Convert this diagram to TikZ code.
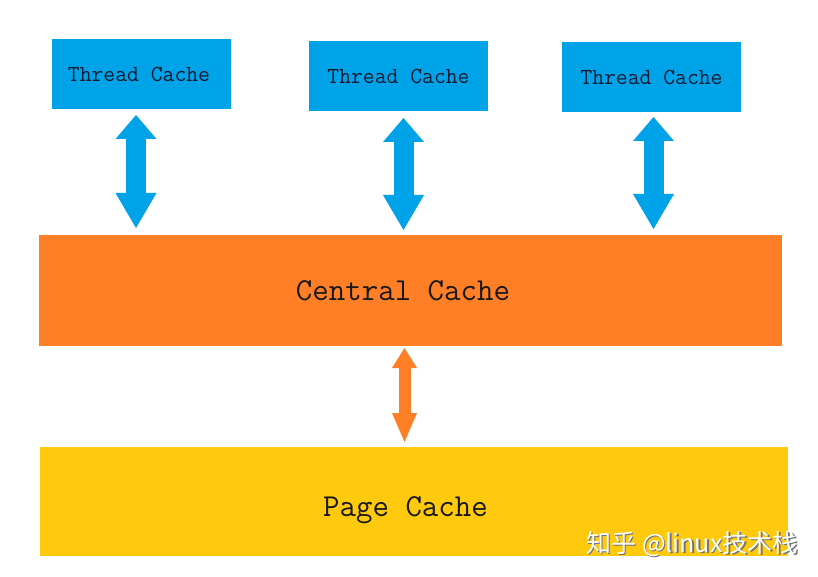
\documentclass[tikz,border=0pt]{standalone}
\usepackage{fontspec}
\newfontfamily\monofont{Latin Modern Mono}
\newfontfamily\cjk{Noto Sans CJK SC}
\usetikzlibrary{arrows.meta,calc}
\definecolor{pblue}{HTML}{00A2E8}
\definecolor{porange}{HTML}{FF7F27}
\definecolor{pgold}{HTML}{FFC90E}
\definecolor{txtdark}{HTML}{151A30}
\tikzset{
  box/.style={rectangle, inner sep=0pt, outer sep=0pt, draw=none},
  threadbox/.style={box, fill=pblue, minimum width=179pt, minimum height=70pt,
    font=\monofont\fontsize{23}{23}\selectfont, text=txtdark},
  bigtext/.style={inner sep=0pt, font=\monofont\fontsize{32}{32}\selectfont, text=black!90},
  bluearrow/.style={draw=pblue, line width=20pt,
    {Triangle[width=41pt 0, length=24pt 0, line width=0pt 0 0]}-{Triangle[width=41pt 0, length=35pt 0, line width=0pt 0 0]}},
  orangearrow/.style={draw=porange, line width=12pt,
    {Triangle[width=25pt 0, length=20pt 0, line width=0pt 0 0]}-{Triangle[width=25pt 0, length=29pt 0, line width=0pt 0 0]}},
}
\begin{document}
\begin{tikzpicture}[x=1pt, y=-1pt]
\useasboundingbox[fill=white] (0,0) rectangle (818,577);
% thread caches
\node[threadbox] (t1) at (141.5,74) {\hspace{-5pt}Thread Cache};
\node[threadbox] (t2) at (398.5,76) {Thread Cache};
\node[threadbox] (t3) at (651.5,77) {Thread Cache};
% central cache
\node[box, fill=porange, minimum width=743pt, minimum height=111pt] (central) at (410.5,290.5) {};
\node[bigtext] (centraltext) at ([xshift=-7.5pt]central.center) {Central Cache};
% page cache
\node[box, fill=pgold, minimum width=748pt, minimum height=109pt] (page) at (414,501.5) {};
\node[bigtext] (pagetext) at ([xshift=-8.5pt,yshift=-8.5pt]page.center) {Page Cache};
% arrows
\draw[bluearrow, shorten <=6pt, shorten >=7pt] ([xshift=-5.5pt]t1.south) -- ([xshift=-5.5pt]t1.south |- central.north);
\draw[bluearrow, shorten <=7pt, shorten >=5pt] ([xshift=5pt]t2.south) -- ([xshift=5pt]t2.south |- central.north);
\draw[bluearrow, shorten <=5pt, shorten >=6pt] ([xshift=2pt]t3.south) -- ([xshift=2pt]t3.south |- central.north);
\draw[orangearrow, shorten <=2pt, shorten >=5pt] ([xshift=-6pt]central.south) -- ([xshift=-6pt]central.south |- page.north);
% watermark
\node[inner sep=0pt, font=\cjk\fontsize{25}{25}\selectfont, text=black!55] (wmshadow) at (693.5,545.5) {知乎 @linux技术栈};
\node[inner sep=0pt, font=\cjk\fontsize{25}{25}\selectfont, text=white] (wm) at (692,544) {知乎 @linux技术栈};
\end{tikzpicture}
\end{document}
